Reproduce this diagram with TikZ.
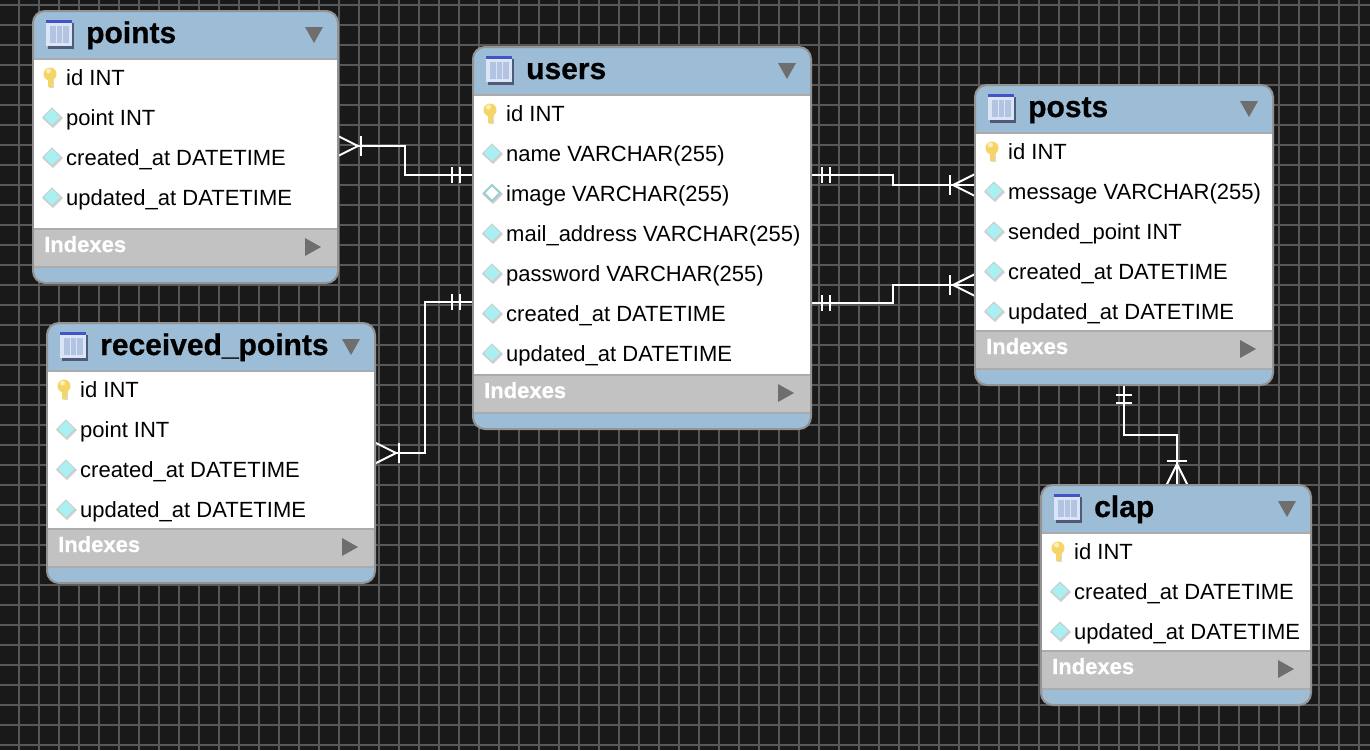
\documentclass[tikz,border=0pt]{standalone}
\usepackage{fontspec}
\setmainfont{Liberation Sans}[BoldFeatures={FakeBold=0.7}]
\definecolor{canvasbg}{HTML}{191919}
\definecolor{gridline}{HTML}{585858}
\definecolor{headblue}{HTML}{9DBDD6}
\definecolor{edgegray}{HTML}{939393}
\definecolor{indexgray}{HTML}{C2C2C2}
\definecolor{indexline}{HTML}{ABABAB}
\definecolor{arrowgray}{HTML}{6E6E6E}
\definecolor{keyyellow}{HTML}{F5D565}
\definecolor{diamondcyan}{HTML}{A8F0F2}
\definecolor{iconshadow}{HTML}{4E5B78}
\definecolor{icontop}{HTML}{3F55C8}
\definecolor{iconlight}{HTML}{DCE5F6}
\definecolor{iconmid}{HTML}{B3C4E2}
\tikzset{
  tablebox/.style={draw=edgegray,line width=2pt,fill=headblue,rounded corners=12pt,inner sep=0pt,outer sep=0pt,anchor=north west},
  titletext/.style={anchor=base west,inner sep=0pt,font=\fontsize{30}{32}\selectfont\bfseries,text=black},
  rowtext/.style={anchor=base west,inner sep=0pt,font=\fontsize{22}{24}\selectfont,text=black},
  indextext/.style={anchor=base west,inner sep=0pt,font=\fontsize{22}{24}\selectfont\bfseries,text=white},
  relline/.style={draw=white,line width=2pt,line join=miter},
  crowfoot/.pic={\draw[relline] (-22,-11) -- (0,0) -- (-22,11); \draw[relline] (3,-10) -- (3,10);},
  onebar/.pic={\draw[relline] (-4,-8) -- (-4,8); \draw[relline] (4,-8) -- (4,8);}
}
% little icons, x y are inside the table
\newcommand{\tableicon}{
  \fill[iconshadow] (15,12) rectangle (41,38);
  \fill[iconlight] (13,9) rectangle (39,35);
  \fill[icontop] (13,9) rectangle (39,12);
  \fill[iconmid] (17,15) rectangle (36,32);
  \draw[iconlight,line width=1pt] (23.5,15) -- (23.5,32) (29.5,15) -- (29.5,32);
}
\newcommand{\iconkey}[1]{
  \fill[black!15] (16,{#1-2}) rectangle (21,{#1+11});
  \fill[keyyellow] (14.5,{#1-2}) rectangle (19.5,{#1+10});
  \fill[keyyellow] (17,{#1-3}) circle (6.5);
  \fill[keyyellow!40!white] (15.5,{#1-6}) circle (2.5);
}
\newcommand{\iconcyan}[1]{
  \fill[black!18] (9,{#1+1}) -- (20,{#1+11}) -- (30,{#1+1}) -- (20,{#1-8}) -- cycle;
  \draw[gray!40,fill=diamondcyan,line width=1pt] (10,#1) -- (19,{#1+9}) -- (28,#1) -- (19,{#1-9}) -- cycle;
}
\newcommand{\iconblank}[1]{
  \fill[black!18] (9,{#1+1}) -- (20,{#1+11}) -- (30,{#1+1}) -- (20,{#1-8}) -- cycle;
  \draw[diamondcyan!70!gray,fill=white,line width=2pt] (11,#1) -- (19,{#1+8}) -- (27,#1) -- (19,{#1-8}) -- cycle;
}
% name, title, x, y, width, height of white part, rows
\newcommand{\erdtable}[7]{
  \begin{scope}[shift={(#3,#4)}]
    \node[tablebox,minimum width=#5pt,minimum height={(#6+102)*1pt}] (#1) at (0,0) {};
    \fill[white] (1,48) rectangle ({#5-1},{48+#6});
    \fill[indexgray] (1,{48+#6}) rectangle ({#5-1},{86+#6});
    \draw[indexline,line width=2pt] (1,48) -- ({#5-1},48) (1,{48+#6}) -- ({#5-1},{48+#6}) (1,{86+#6}) -- ({#5-1},{86+#6});
    \tableicon
    \node[titletext] (#1-title) at (53,32) {#2};
    \fill[arrowgray] ({#5-33},16) -- ({#5-15},16) -- ({#5-24},32) -- cycle;
    \foreach \kind/\rowlabel [count=\i from 0] in {#7}{
      \csname icon\kind\endcsname{66+40*\i}
      \node[rowtext] (#1-row\i) at (33,{74+40*\i}) {\rowlabel};
    }
    \node[indextext] (#1-indexes) at (11,{71+#6}) {Indexes};
    \fill[arrowgray] ({#5-33},{57+#6}) -- ({#5-17},{66+#6}) -- ({#5-33},{75+#6}) -- cycle;
  \end{scope}
}
\begin{document}
\begin{tikzpicture}[x=1pt,y=-1pt]
\useasboundingbox (0,0) rectangle (1370,750);
\fill[canvasbg] (0,0) rectangle (1370,750);

% grid
\foreach \gx in {19,39,...,1359}{\draw[gridline,line width=1.6pt] (\gx,0) -- (\gx,750);}
\foreach \gy in {5,25,...,745}{\draw[gridline,line width=1.6pt] (0,\gy) -- (1370,\gy);}

% connector ends
\coordinate (pointsE) at (358,146);
\coordinate (usersWa) at (473,175);
\coordinate (usersWb) at (473,302);
\coordinate (receivedE) at (396,453);
\coordinate (usersEa) at (811,175);
\coordinate (usersEb) at (811,303);
\coordinate (postsWa) at (975,185);
\coordinate (postsWb) at (975,285);
\coordinate (postsS) at (1124,385);
\coordinate (clapN) at (1177,485);

% relations
\draw[relline] (pointsE) -- (405,146) |- (usersWa);
\draw[relline] (receivedE) -- (425,453) |- (usersWb);
\draw[relline] (usersEa) -- (893,175) |- (postsWa);
\draw[relline] (usersEb) -- (893,303) |- (postsWb);
\draw[relline] (postsS) |- (1177,435) -- (clapN);

% line ends
\pic at (pointsE) {crowfoot};
\pic at (receivedE) {crowfoot};
\pic[rotate=180] at ([xshift=-22pt]postsWa) {crowfoot};
\pic[rotate=180] at ([xshift=-22pt]postsWb) {crowfoot};
\pic[rotate=90] at ([yshift=21pt]clapN) {crowfoot};
\pic at ([xshift=-17pt]usersWa) {onebar};
\pic at ([xshift=-17pt]usersWb) {onebar};
\pic at ([xshift=15pt]usersEa) {onebar};
\pic at ([xshift=15pt]usersEb) {onebar};
\pic[rotate=90] at ([yshift=-14pt]postsS) {onebar};

% tables
\erdtable{points}{points}{33}{11}{305}{170}{key/id INT,cyan/point INT,cyan/created\_at DATETIME,cyan/updated\_at DATETIME}
\erdtable{users}{users}{473}{47}{338}{280}{key/id INT,cyan/name VARCHAR(255),blank/image VARCHAR(255),cyan/mail\_address VARCHAR(255),cyan/password VARCHAR(255),cyan/created\_at DATETIME,cyan/updated\_at DATETIME}
\erdtable{posts}{posts}{975}{85}{298}{198}{key/id INT,cyan/message VARCHAR(255),cyan/sended\_point INT,cyan/created\_at DATETIME,cyan/updated\_at DATETIME}
\erdtable{received}{received\_points}{47}{323}{328}{158}{key/id INT,cyan/point INT,cyan/created\_at DATETIME,cyan/updated\_at DATETIME}
\erdtable{clap}{clap}{1041}{485}{270}{118}{key/id INT,cyan/created\_at DATETIME,cyan/updated\_at DATETIME}

\end{tikzpicture}
\end{document}
